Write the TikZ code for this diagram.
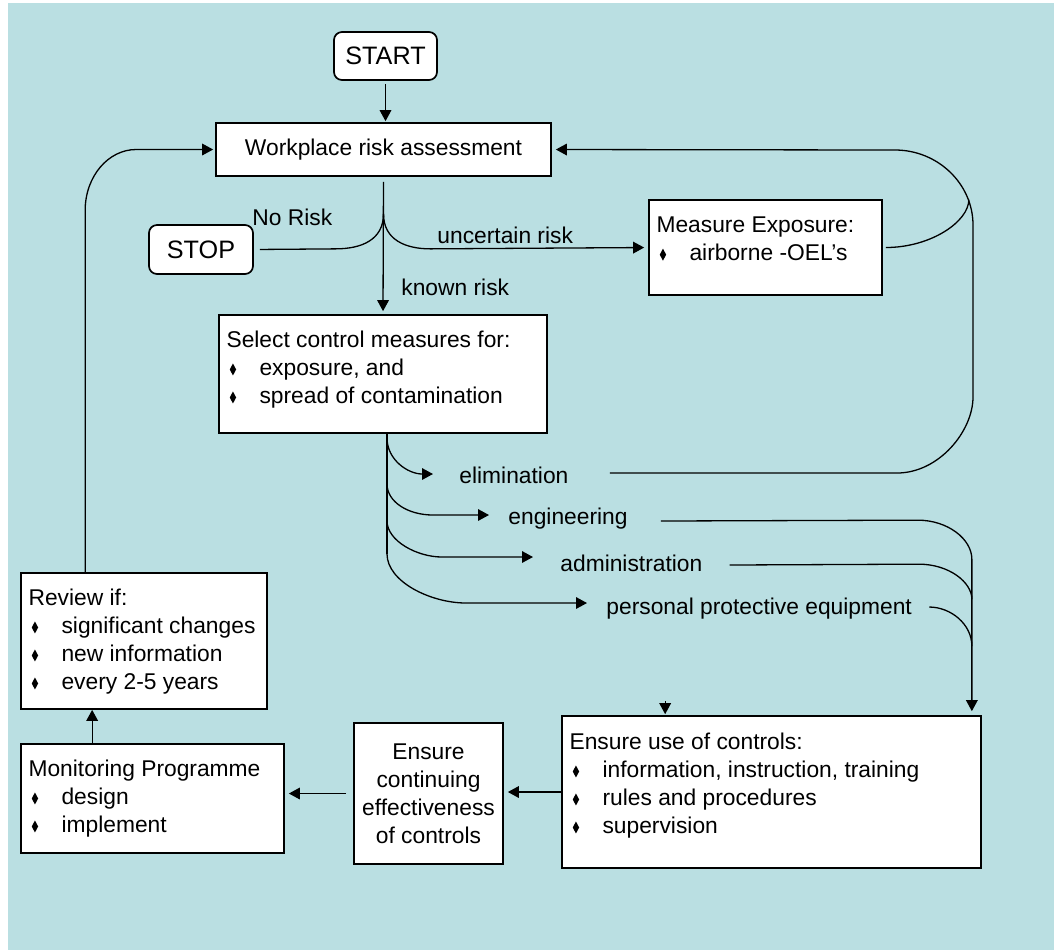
\documentclass[tikz,border=0pt]{standalone}
\usepackage{fontspec}
\setmainfont{Liberation Sans}
\usetikzlibrary{calc,arrows.meta}

\definecolor{bgblue}{RGB}{186,223,226}
\newcommand{\blt}[1]{\hspace*{1.6pt}\tikz[baseline=0pt]\fill (0,-0.2pt) -- (1.6pt,2.8pt) -- (0,5.8pt) -- (-1.6pt,2.8pt) -- cycle;\hspace{11.7pt}#1}

\tikzset{
    box/.style={draw, fill=white, line width=0.85pt, inner sep=0pt},
    term/.style={box, rounded corners=4pt, font=\fontsize{12.6}{15}\selectfont},
    txt/.style={anchor=north west, align=left, inner sep=0pt},
    lbl/.style={anchor=west, inner sep=0pt},
    wire/.style={line width=0.65pt},
    arr/.style={wire, ->}
}

\begin{document}
\begin{tikzpicture}[x=0.5pt, y=-0.5pt, >={Triangle[length=5.5pt,width=5.8pt]}, font=\fontsize{11.4}{14}\selectfont]
    % Background
    \useasboundingbox (0,0) rectangle (1054,950);
    \fill[bgblue] (8,3) rectangle (1054,950);

    % Boxes
    \node[term, minimum width=51.5pt, minimum height=24pt] (start) at (385.5,56) {START};
    \node[box, minimum width=167.5pt, minimum height=26.5pt] (work) at (383.5,149.5) {Workplace risk assessment};
    \node[term, minimum width=52pt, minimum height=24.5pt] (stop) at (201,249.5) {STOP};
    \node[box, minimum width=116.5pt, minimum height=47.5pt] (meas) at (765.5,247.5) {};
    \node[box, minimum width=164pt, minimum height=59pt] (sel) at (383,374) {};
    \node[box, minimum width=123pt, minimum height=68pt] (review) at (144,641) {};
    \node[box, minimum width=131.5pt, minimum height=54.5pt] (monit) at (152.5,798.5) {};
    \node[box, minimum width=74.5pt, minimum height=70.5pt, align=center] (cont) at (428.5,793.5) {Ensure\\ continuing\\ effectiveness\\ of controls};
    \node[box, minimum width=209.5pt, minimum height=76pt] (use) at (771.5,792) {};

    % Box texts
    \node[txt] (meastxt) at ($(meas.north west)+(8,17)$) {Measure Exposure:\\ \blt{airborne -OEL’s}};
    \node[txt] (seltxt) at ($(sel.north west)+(8,16)$) {Select control measures for:\\ \blt{exposure, and}\\ \blt{spread of contamination}};
    \node[txt] (reviewtxt) at ($(review.north west)+(8,16)$) {Review if:\\ \blt{significant changes}\\ \blt{new information}\\ \blt{every 2-5 years}};
    \node[txt] (monittxt) at ($(monit.north west)+(8,16)$) {Monitoring Programme\\ \blt{design}\\ \blt{implement}};
    \node[txt] (usetxt) at ($(use.north west)+(8,17)$) {Ensure use of controls:\\ \blt{information, instruction, training}\\ \blt{rules and procedures}\\ \blt{supervision}};

    % Labels
    \node[lbl] (norisk) at (252,217) {No Risk};
    \node[lbl] (uncert) at (437,235) {uncertain risk};
    \node[lbl] (known) at (401,287) {known risk};
    \node[lbl] (elim) at (459,475) {elimination};
    \node[lbl] (eng) at (508,519) {engineering};
    \node[lbl] (admin) at (560,563) {administration};
    \node[lbl] (ppe) at (606,609) {personal protective equipment};

    % Main flow
    \draw[arr, shorten <=1.5pt, shorten >=0.5pt] (start.south) -- (start.south |- work.north);
    \coordinate (fork) at ($(work.south)+(0,37)$);
    \draw[arr, shorten <=2.5pt, shorten >=1.5pt] (work.south) -- (sel.north);
    \draw[wire, shorten >=3pt] (fork) .. controls ($(fork)+(0,26)$) and ($(fork)+(-22,35)$) .. ($(fork)+(-48,35)$) -- (stop.east);
    \draw[arr, shorten >=2pt] (fork) .. controls ($(fork)+(0,26)$) and ($(fork)+(22,35)$) .. ($(fork)+(47,35)$) -- (meas.west);

    % Return loops
    \draw[wire] ($(meas.east)+(3,0)$) .. controls ($(meas.east)+(48,0)$) and ($(meas.east)+(86,-26)$) .. ($(meas.east)+(86,-48)$);
    \draw[arr, shorten >=2pt] ($(elim.east)+(41,-2)$) -- (897,473) .. controls (939,473) and (973,431) .. (973,397)
        -- (973,225) .. controls (973,184) and (938,150) .. (895,150) -- (work.east);
    \draw[arr, shorten >=1pt] ($(review.north west)+(65,0)$) -- ($(work.west)+(-130,61)$)
        .. controls ($(work.west)+(-130,27)$) and ($(work.west)+(-107,0)$) .. ($(work.west)+(-79,0)$) -- (work.west);

    % Fan out of the control measures
    \coordinate (fan) at ($(sel.south)+(4,0)$);
    \draw[wire] (fan) -- ($(fan)+(0,120)$);
    \draw[arr] ($(fan)+(0,4)$) .. controls ($(fan)+(0,26)$) and ($(elim.west)+(-51,-1)$) .. ($(elim.west)+(-26,-1)$);
    \draw[arr] ($(fan)+(0,50)$) .. controls ($(fan)+(0,68)$) and ($(eng.west)+(-100,-4)$) .. ($(eng.west)+(-75,-4)$) -- ($(eng.west)+(-19,-4)$);
    \draw[arr] ($(fan)+(0,87)$) .. controls ($(fan)+(0,107)$) and ($(admin.west)+(-143,-6)$) .. ($(admin.west)+(-118,-6)$) -- ($(admin.west)+(-27,-6)$);
    \draw[arr] ($(fan)+(0,120)$) .. controls ($(fan)+(0,148)$) and ($(ppe.west)+(-175,-6)$) .. ($(ppe.west)+(-140,-6)$) -- ($(ppe.west)+(-19,-6)$);

    % Fan in to the use of controls
    \coordinate (merge) at ($(use.north east)+(-10,0)$);
    \draw[arr, shorten >=2pt] ($(eng.east)+(33,2)$) -- ($(merge)+(-54,-195)$) .. controls ($(merge)+(-24,-195)$) and ($(merge)+(0,-176)$) .. ($(merge)+(0,-156)$) -- (merge);
    \draw[wire] ($(admin.east)+(27,2)$) -- ($(merge)+(-53,-151)$) .. controls ($(merge)+(-23,-151)$) and ($(merge)+(0,-133)$) .. ($(merge)+(0,-116)$);
    \draw[wire] ($(ppe.east)+(17,-2)$) .. controls ($(merge)+(-21,-108)$) and ($(merge)+(0,-91)$) .. ($(merge)+(0,-69)$);
    \draw[arr] ($(use.north west)+(104,-14)$) -- ($(use.north west)+(104,-1)$);

    % Bottom row
    \draw[arr, shorten >=2pt] (use.west) -- (use.west -| cont.east);
    \draw[arr, shorten <=3.5pt, shorten >=2pt] (cont.west) -- (cont.west -| monit.east);
    \draw[arr] ($(monit.north west)+(72,0)$) -- ($(review.south west)+(72,0)$);
\end{tikzpicture}
\end{document}
